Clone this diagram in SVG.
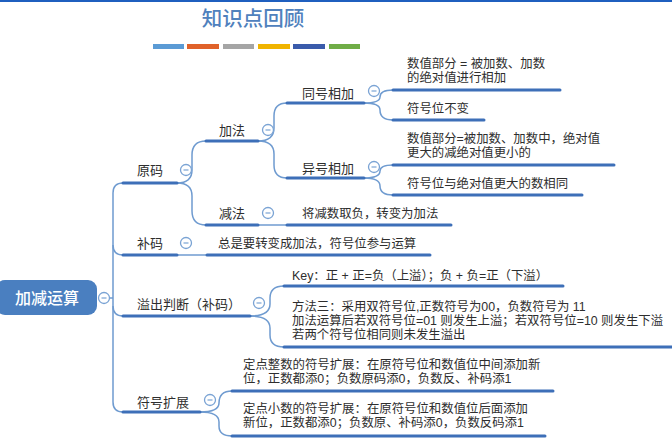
<svg xmlns="http://www.w3.org/2000/svg" width="672" height="441" viewBox="0 0 672 441">
<defs>
<style>
.t{font-family:"Liberation Sans","Noto Sans CJK SC",sans-serif;font-size:12.4px;fill:#2e2e2e;}
.l1{font-family:"Liberation Sans","Noto Sans CJK SC",sans-serif;font-size:13px;fill:#2e2e2e;}
.ul{stroke:#3d6fb8;stroke-width:3;fill:none;stroke-linecap:round;}
.cn{stroke:#6f9bd0;stroke-width:1.5;fill:none;}
.cc{fill:#fff;stroke:#7aa3d4;stroke-width:1.3;}
.cm{stroke:#7aa3d4;stroke-width:1.2;}
</style>
<g id="collapse">
<circle class="cc" cx="0" cy="0" r="5.5"/>
<line class="cm" x1="-2.5" y1="0" x2="2.5" y2="0"/>
</g>
</defs>
<rect x="0" y="0" width="672" height="441" fill="#fff"/>
<rect x="0" y="0" width="672" height="2" fill="#1f5fbf"/>
<g id="title">
<text x="253" y="26" text-anchor="middle" style="font-family:'Noto Sans CJK SC',sans-serif;font-size:20.5px;fill:#4f81bd;font-weight:500;">知识点回顾</text>
<rect x="153" y="44" width="31" height="5" fill="#5b9bd5"/>
<rect x="187" y="44" width="32" height="5" fill="#e0622a"/>
<rect x="223" y="44" width="31" height="5" fill="#a5a5a5"/>
<rect x="258" y="44" width="32" height="5" fill="#f0b400"/>
<rect x="293" y="44" width="32" height="5" fill="#3a5bab"/>
<rect x="329" y="44" width="31" height="5" fill="#70ad47"/>
</g>
<g id="connectors">
<path class="cn" d="M109.5 298 H113"/>
<path class="cn" d="M123 183 Q113 183 113 193 V402 Q113 412 123 412"/>
<path class="cn" d="M113 245 Q113 255 123 255"/>
<path class="cn" d="M113 306 Q113 316 123 316"/>
<path class="cn" d="M177 183 Q192 183 192 170 V155 Q192 141 206 141"/>
<path class="cn" d="M177 183 Q192 183 192 196 V211 Q192 225 206 225"/>
<path class="cn" d="M177 255 H207"/>
<path class="cn" d="M258 225 H287"/>
<path class="cn" d="M258 141 Q274 141 274 128 V116 Q274 103 287 103"/>
<path class="cn" d="M258 141 Q274 141 274 154 V165 Q274 178 287 178"/>
<path class="cn" d="M364 103 Q380 103 380 97 Q380 90 393 90"/>
<path class="cn" d="M364 103 Q380 103 380 110 Q380 120 393 120"/>
<path class="cn" d="M364 178 Q380 178 380 171 Q380 165 393 165"/>
<path class="cn" d="M364 178 Q380 178 380 186 Q380 195 393 195"/>
<path class="cn" d="M250 316 Q270 316 270 304 V298 Q270 286 284 286"/>
<path class="cn" d="M250 316 Q270 316 270 328 V335 Q270 347 284 347"/>
<path class="cn" d="M200 412 Q219 412 219 403 Q219 391 232 391"/>
<path class="cn" d="M200 412 Q219 412 219 422 V426 Q219 436 232 436"/>
</g>
<g id="root">
<rect x="-4" y="280" width="101" height="35" rx="9" fill="#4a7fc0"/>
<text x="47" y="303.5" text-anchor="middle" style="font-family:'Noto Sans CJK SC',sans-serif;font-size:16px;fill:#fff;font-weight:500;">加减运算</text>
<use href="#collapse" x="104" y="298"/>
</g>
<g id="yuanma">
<line class="ul" x1="123" y1="183" x2="177" y2="183"/>
<text class="l1" x="137" y="175">原码</text>
<use href="#collapse" x="186" y="170"/>
</g>
<g id="buma">
<line class="ul" x1="123" y1="255" x2="177" y2="255"/>
<text class="l1" x="137" y="248">补码</text>
<use href="#collapse" x="186" y="243"/>
</g>
<g id="yichu">
<line class="ul" x1="123" y1="316" x2="250" y2="316"/>
<text class="l1" x="137" y="309">溢出判断（补码）</text>
<use href="#collapse" x="259" y="303"/>
</g>
<g id="fuhaokuozhan">
<line class="ul" x1="123" y1="412" x2="200" y2="412"/>
<text class="l1" x="137" y="407">符号扩展</text>
<use href="#collapse" x="210" y="400"/>
</g>
<g id="jiafa">
<line class="ul" x1="206" y1="141" x2="258" y2="141"/>
<text class="l1" x="219" y="135">加法</text>
<use href="#collapse" x="268" y="130"/>
</g>
<g id="jianfa">
<line class="ul" x1="206" y1="225" x2="258" y2="225"/>
<text class="l1" x="219" y="218">减法</text>
<use href="#collapse" x="268" y="213"/>
</g>
<g id="tonghao">
<line class="ul" x1="287" y1="103" x2="364" y2="103"/>
<text class="l1" x="302" y="98">同号相加</text>
<use href="#collapse" x="374" y="91"/>
</g>
<g id="yihao">
<line class="ul" x1="287" y1="178" x2="364" y2="178"/>
<text class="l1" x="302" y="173">异号相加</text>
<use href="#collapse" x="374" y="167"/>
</g>
<g id="jianfa-leaf">
<line class="ul" x1="287" y1="225" x2="451" y2="225"/>
<text class="t" x="302" y="218">将减数取负，转变为加法</text>
</g>
<g id="buma-leaf">
<line class="ul" x1="207" y1="255" x2="430" y2="255"/>
<text class="t" x="218" y="248">总是要转变成加法，符号位参与运算</text>
</g>
<g id="tonghao-leaf1">
<line class="ul" x1="393" y1="90" x2="560" y2="90"/>
<text class="t" x="407" y="68">数值部分 = 被加数、加数<tspan x="407" dy="14">的绝对值进行相加</tspan></text>
</g>
<g id="tonghao-leaf2">
<line class="ul" x1="393" y1="120" x2="484" y2="120"/>
<text class="t" x="407" y="113">符号位不变</text>
</g>
<g id="yihao-leaf1">
<line class="ul" x1="393" y1="165" x2="614" y2="165"/>
<text class="t" x="407" y="143">数值部分=被加数、加数中，绝对值<tspan x="407" dy="14">更大的减绝对值更小的</tspan></text>
</g>
<g id="yihao-leaf2">
<line class="ul" x1="393" y1="195" x2="582" y2="195"/>
<text class="t" x="407" y="188">符号位与绝对值更大的数相同</text>
</g>
<g id="key">
<line class="ul" x1="284" y1="286" x2="563" y2="286"/>
<text class="t" x="292" y="280">Key：正 + 正=负（上溢）；负 + 负=正（下溢）</text>
</g>
<g id="method3">
<line class="ul" x1="284" y1="347" x2="673" y2="347"/>
<text class="t" x="292" y="311">方法三：采用双符号位,正数符号为00，负数符号为 11<tspan x="292" dy="14">加法运算后若双符号位=01 则发生上溢；若双符号位=10 则发生下溢</tspan><tspan x="292" dy="14">若两个符号位相同则未发生溢出</tspan></text>
</g>
<g id="int-ext">
<line class="ul" x1="232" y1="391" x2="553" y2="391"/>
<text class="t" x="243" y="369">定点整数的符号扩展：在原符号位和数值位中间添加新<tspan x="243" dy="14">位，正数都添0；负数原码添0，负数反、补码添1</tspan></text>
</g>
<g id="frac-ext">
<line class="ul" x1="232" y1="436" x2="545" y2="436"/>
<text class="t" x="243" y="413">定点小数的符号扩展：在原符号位和数值位后面添加<tspan x="243" dy="14">新位，正数都添0；负数原、补码添0，负数反码添1</tspan></text>
</g>
</svg>
